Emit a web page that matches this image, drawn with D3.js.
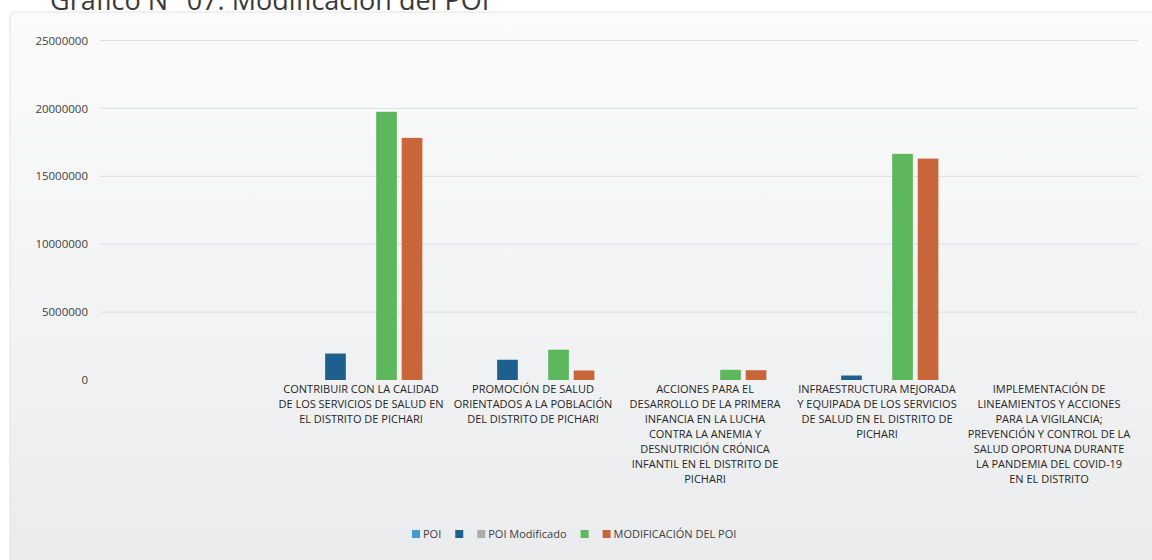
<!DOCTYPE html>
<html>
  <head>
    <meta charset="utf-8" />
    <script src="https://d3js.org/d3.v7.min.js"></script>
    <style>
      body { margin: 0; background: #ffffff; }
      svg text { font-family: "Open Sans", sans-serif; }
    </style>
  </head>
  <body>
    <svg id="chart" width="1152" height="560"></svg>

    <script>
      // categories (first slot has no label and no bars)
      const categories = [
        "",
        "CONTRIBUIR CON LA CALIDAD\nDE LOS SERVICIOS DE SALUD EN\nEL DISTRITO DE PICHARI",
        "PROMOCIÓN DE SALUD\nORIENTADOS A LA POBLACIÓN\nDEL DISTRITO DE PICHARI",
        "ACCIONES PARA EL\nDESARROLLO DE LA PRIMERA\nINFANCIA EN LA LUCHA\nCONTRA LA ANEMIA Y\nDESNUTRICIÓN CRÓNICA\nINFANTIL EN EL DISTRITO DE\nPICHARI",
        "INFRAESTRUCTURA MEJORADA\nY EQUIPADA DE LOS SERVICIOS\nDE SALUD EN EL DISTRITO DE\nPICHARI",
        "IMPLEMENTACIÓN DE\nLINEAMIENTOS Y ACCIONES\nPARA LA VIGILANCIA;\nPREVENCIÓN Y CONTROL DE LA\nSALUD OPORTUNA DURANTE\nLA PANDEMIA DEL COVID-19\nEN EL DISTRITO"
      ];

      // series names as shown in the legend (two have no name)
      const seriesNames = ["POI", "", "POI Modificado", "", "MODIFICACIÓN DEL POI"];
      const seriesColors = ["#3f9bd5", "#1d6090", "#a9abad", "#5db75d", "#c8663a"];

      // values per series, one per category
      const poi = [0, 0, 0, 0, 0, 0];
      const poiBlue = [0, 1950000, 1490000, 0, 330000, 0];
      const poiModificado = [0, 0, 0, 0, 0, 0];
      const poiGreen = [0, 19750000, 2230000, 750000, 16650000, 0];
      const modificacionPoi = [0, 17830000, 700000, 720000, 16300000, 0];
      const seriesValues = [poi, poiBlue, poiModificado, poiGreen, modificacionPoi];

      const yTicks = [0, 5000000, 10000000, 15000000, 20000000, 25000000];

      const svg = d3.select("#chart");

      // scanned-paper background
      const defs = svg.append("defs");
      const grad = defs.append("linearGradient")
        .attr("id", "bg").attr("x1", 0).attr("y1", 0).attr("x2", 0).attr("y2", 1);
      grad.append("stop").attr("offset", "0%").attr("stop-color", "#fbfbfb");
      grad.append("stop").attr("offset", "60%").attr("stop-color", "#f1f2f3");
      grad.append("stop").attr("offset", "100%").attr("stop-color", "#e9ebec");

      svg.append("rect")
        .attr("x", 10).attr("y", 12).attr("width", 1150).attr("height", 560)
        .attr("rx", 6)
        .attr("fill", "url(#bg)")
        .attr("stroke", "#e2e3e4");

      // title, cut by the top edge as in the scan
      svg.append("text")
        .attr("x", 50).attr("y", 10)
        .attr("font-size", 27)
        .attr("fill", "#3a3a3a")
        .text("Gráfico N° 07: Modificación del POI");

      const margin = { left: 103, right: 17, top: 40.5, bottom: 180 };
      const plotRight = 1152 - margin.right;
      const y0 = 380;

      const x0 = d3.scaleBand()
        .domain(d3.range(categories.length))
        .range([margin.left, plotRight])
        .paddingInner(0.23)
        .paddingOuter(0.115);

      const x1 = d3.scaleBand()
        .domain(d3.range(seriesNames.length))
        .range([0, x0.bandwidth()])
        .padding(0.19);

      const y = d3.scaleLinear()
        .domain([0, 25000000])
        .range([y0, margin.top]);

      // gridlines
      svg.append("g")
        .selectAll("line")
        .data(yTicks.slice(1))
        .enter()
        .append("line")
        .attr("x1", 100)
        .attr("x2", 1138)
        .attr("y1", (d) => y(d))
        .attr("y2", (d) => y(d))
        .attr("stroke", "#dcdddf")
        .attr("stroke-width", 1);

      // y axis labels
      const yAxis = svg.append("g")
        .attr("transform", "translate(96,0)")
        .call(d3.axisLeft(y).tickValues(yTicks).tickFormat(d3.format("d")).tickSize(0).tickPadding(8));
      yAxis.select(".domain").remove();
      yAxis.selectAll("text")
        .attr("font-size", 11.5)
        .attr("fill", "#404040")
        .style("font-family", "'Open Sans', sans-serif");

      // bars
      const groups = svg.append("g")
        .selectAll("g")
        .data(categories.map((c, i) => i))
        .enter()
        .append("g")
        .attr("transform", (i) => "translate(" + x0(i) + ",0)");

      groups.selectAll("rect")
        .data((i) => seriesValues.map((vals, s) => ({ s: s, v: vals[i] })))
        .enter()
        .append("rect")
        .filter((d) => d.v > 0)
        .attr("x", (d) => x1(d.s))
        .attr("width", x1.bandwidth())
        .attr("y", (d) => y(d.v))
        .attr("height", (d) => y0 - y(d.v))
        .attr("fill", (d) => seriesColors[d.s]);

      // category labels
      const labels = svg.append("g")
        .selectAll("text")
        .data(categories)
        .enter()
        .append("text")
        .attr("text-anchor", "middle")
        .attr("font-size", 11)
        .attr("fill", "#262626")
        .attr("transform", (d, i) => "translate(" + (x0(i) + x0.bandwidth() / 2) + ",393)");

      labels.selectAll("tspan")
        .data((d) => (d ? d.split("\n") : []))
        .enter()
        .append("tspan")
        .attr("x", 0)
        .attr("dy", (d, j) => (j === 0 ? 0 : 15))
        .text((d) => d);

      // legend
      const legend = svg.append("g").attr("transform", "translate(412,534)");
      let lx = 0;
      seriesNames.forEach((name, i) => {
        const item = legend.append("g").attr("transform", "translate(" + lx + ",0)");
        item.append("rect")
          .attr("x", 0).attr("y", -4)
          .attr("width", 8).attr("height", 8)
          .attr("fill", seriesColors[i]);
        const t = item.append("text")
          .attr("x", 11).attr("y", 4)
          .attr("font-size", 11)
          .attr("fill", "#404040")
          .text(name);
        const w = name ? t.node().getComputedTextLength() + 3 : 0;
        lx += 8 + w + 14;
      });
    </script>
  </body>
</html>
